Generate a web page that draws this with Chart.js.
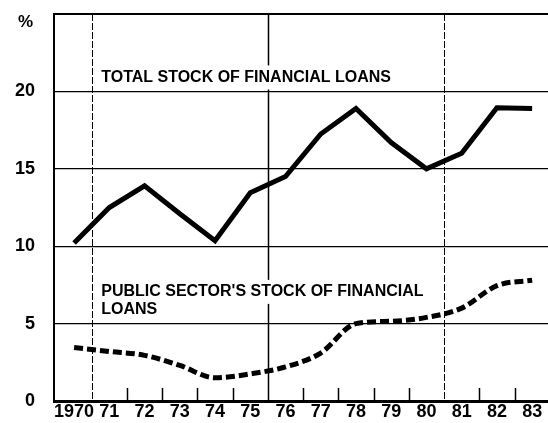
<!DOCTYPE html>
<html>
<head>
<meta charset="utf-8">
<script src="https://cdn.jsdelivr.net/npm/chart.js@4/dist/chart.umd.min.js"></script>
<style>
  html, body { margin: 0; padding: 0; background: #fff; }
  #wrap { width: 548px; height: 423px; position: relative; }
</style>
</head>
<body>
<div id="wrap"><canvas id="loanChart"></canvas></div>
<script>
// data (percent)
const years = [1970, 1971, 1972, 1973, 1974, 1975, 1976, 1977, 1978, 1979, 1980, 1981, 1982, 1983];
const totalLoans = [10.2, 12.5, 13.9, 12.1, 10.35, 13.45, 14.5, 17.25, 18.9, 16.7, 15.0, 16.0, 18.95, 18.9];
const publicLoans = [3.45, 3.2, 2.95, 2.3, 1.5, 1.75, 2.2, 3.1, 5.0, 5.15, 5.4, 6.0, 7.45, 7.8];
const yTicks = [0, 5, 10, 15, 20, 25];

const FONT = "'Liberation Sans', Arial, Helvetica, sans-serif";

// year boundaries: short tick marks, every 5th one a full grid line
const boundaries = years.slice(0, -1).map(y => y + 0.5);

const framePlugin = {
    id: 'frame',
    beforeDatasetsDraw(chart) {
        const { ctx, chartArea, scales: { x, y } } = chart;
        ctx.save();
        ctx.strokeStyle = '#000';
        boundaries.forEach(b => {
            const px = Math.round(x.getPixelForValue(b)) + 0.5;
            ctx.beginPath();
            if ((b - 0.5) % 5 === 0) {
                ctx.lineWidth = (b === 1975.5) ? 1.5 : 1;
                ctx.setLineDash(b === 1975.5 ? [] : [7, 2]);
                ctx.moveTo(px, chartArea.top);
            } else {
                ctx.lineWidth = 1.5;
                ctx.setLineDash([]);
                ctx.moveTo(px, chartArea.bottom - 13);
            }
            ctx.lineTo(px, chartArea.bottom);
            ctx.stroke();
        });
        ctx.setLineDash([]);

        // series captions with a white box that breaks the grid line
        ctx.font = 'bold 16px ' + FONT;
        ctx.textBaseline = 'middle';
        ctx.textAlign = 'left';
        const tx = x.getPixelForValue(1970.77);
        const captions = [
            { text: 'TOTAL STOCK OF FINANCIAL LOANS', v: 20.9 },
            { text: "PUBLIC SECTOR'S STOCK OF FINANCIAL", v: 7.05 },
            { text: 'LOANS', v: 5.9 }
        ];
        captions.forEach(c => {
            const py = y.getPixelForValue(c.v);
            const w = ctx.measureText(c.text).width;
            ctx.fillStyle = '#fff';
            ctx.fillRect(tx - 4, py - 12, w + 8, 24);
        });
        ctx.fillStyle = '#000';
        captions.forEach(c => {
            ctx.fillText(c.text, tx, y.getPixelForValue(c.v));
        });

        // unit label above the y ticks
        ctx.font = 'bold 17px ' + FONT;
        ctx.textAlign = 'right';
        ctx.fillText('%', chartArea.left - 21, y.getPixelForValue(25) + 8);
        ctx.restore();
    }
};

new Chart(document.getElementById('loanChart'), {
    type: 'line',
    data: {
        datasets: [{
            label: 'Total stock of financial loans',
            data: years.map((yr, i) => ({ x: yr, y: totalLoans[i] })),
            borderColor: '#000',
            borderWidth: 5,
            tension: 0,
            pointRadius: 0,
            borderJoinStyle: 'miter'
        }, {
            label: "Public sector's stock of financial loans",
            data: years.map((yr, i) => ({ x: yr, y: publicLoans[i] })),
            borderColor: '#000',
            borderWidth: 5,
            borderDash: [9, 4],
            cubicInterpolationMode: 'monotone',
            pointRadius: 0
        }]
    },
    options: {
        responsive: true,
        maintainAspectRatio: false,
        animation: false,
        layout: { padding: { top: 14, right: 0, left: 0, bottom: 0 } },
        plugins: { legend: { display: false }, tooltip: { enabled: false } },
        scales: {
            x: {
                type: 'linear',
                min: 1969.43,
                max: 1983.45,
                afterBuildTicks: axis => { axis.ticks = years.map(v => ({ value: v })); },
                afterFit: axis => {
                    axis.height = 22;
                    axis.paddingLeft = 0;
                    axis.paddingRight = 0;
                },
                grid: { display: false, drawTicks: false },
                border: { display: true, color: '#000', width: 3 },
                ticks: {
                    color: '#000',
                    padding: 2,
                    maxRotation: 0,
                    autoSkip: false,
                    font: { family: FONT, size: 18, weight: 'bold', lineHeight: 1 },
                    callback: v => v === 1970 ? '1970' : String(v).slice(2)
                }
            },
            y: {
                min: 0,
                max: 25,
                afterBuildTicks: axis => { axis.ticks = yTicks.map(v => ({ value: v })); },
                afterFit: axis => {
                    axis.width = 54;
                    axis.paddingTop = 0;
                    axis.paddingBottom = 0;
                },
                grid: {
                    color: '#000',
                    drawTicks: false,
                    lineWidth: c => c.tick && c.tick.value === 25 ? 2 : 1.3
                },
                border: { display: true, color: '#000', width: 2 },
                ticks: {
                    color: '#000',
                    padding: 19,
                    font: { family: FONT, size: 18, weight: 'bold' },
                    callback: v => v === 25 ? '' : String(v)
                }
            }
        }
    },
    plugins: [framePlugin]
});
</script>
</body>
</html>
